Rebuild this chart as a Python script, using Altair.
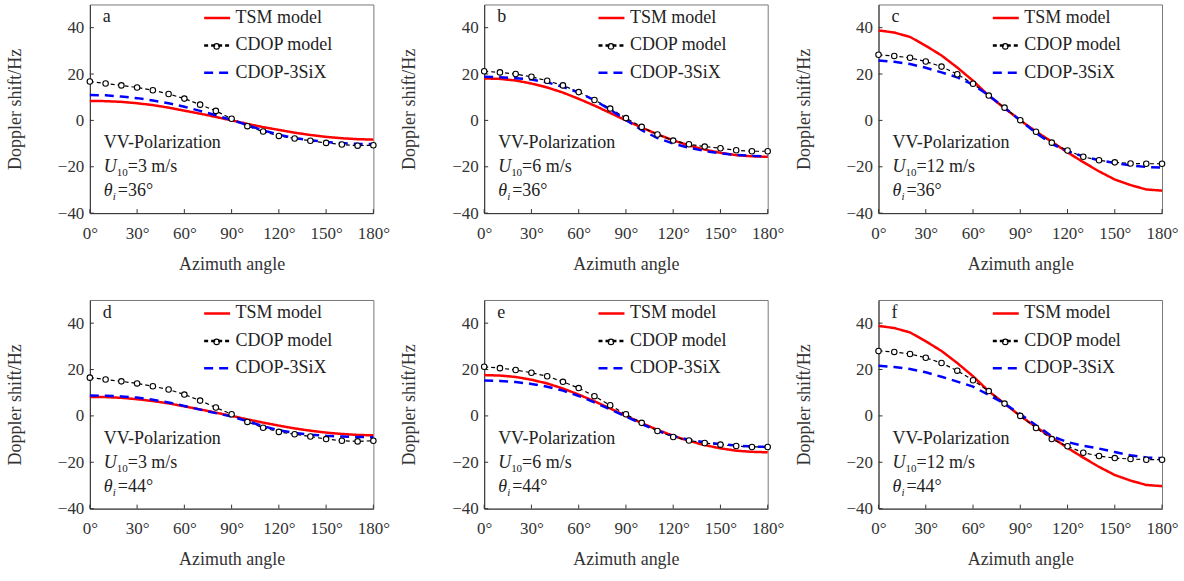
import altair as alt
import pandas as pd

FONT = "Times New Roman, Liberation Serif, DejaVu Serif, serif"
W, H = 284, 209

angles = [0, 10, 20, 30, 40, 50, 60, 70, 80, 90, 100, 110, 120, 130, 140, 150, 160, 170, 180]
x_ticks = [0, 30, 60, 90, 120, 150, 180]
y_ticks = [-40, -20, 0, 20, 40]

SERIES = ["TSM model", "CDOP model", "CDOP-3SiX"]
COLORS = ["#ff0000", "#000000", "#0000ff"]

letters = ["a", "b", "c", "d", "e", "f"]
winds = ["=3 m/s", "=6 m/s", "=12 m/s", "=3 m/s", "=6 m/s", "=12 m/s"]
incid = ["=36°", "=36°", "=36°", "=44°", "=44°", "=44°"]

tsm_a = [8.4, 8.3, 8.0, 7.4, 6.6, 5.5, 4.2, 2.9, 1.5, 0.0, -1.5, -2.9, -4.1, -5.3, -6.3, -7.1, -7.7, -8.1, -8.3]
cdop_a = [16.8, 15.9, 15.1, 14.2, 13.0, 11.4, 9.4, 6.8, 4.1, 0.7, -2.5, -4.8, -6.7, -7.8, -8.8, -9.7, -10.4, -10.9, -10.7]
six_a = [11.0, 10.8, 10.3, 9.6, 8.6, 7.4, 5.9, 4.1, 2.2, 0.2, -2.0, -4.3, -6.2, -7.6, -8.6, -9.3, -9.8, -10.1, -10.2]

tsm_b = [18.1, 17.9, 17.2, 15.9, 14.2, 12.0, 9.3, 6.4, 3.2, 0.0, -3.1, -6.0, -8.6, -10.8, -12.6, -14.0, -15.0, -15.5, -15.7]
cdop_b = [21.2, 20.7, 20.0, 18.8, 17.1, 15.1, 12.2, 8.8, 5.1, 1.0, -2.8, -6.1, -8.7, -10.3, -11.3, -12.0, -12.9, -13.3, -13.3]
six_b = [18.8, 18.6, 18.2, 17.6, 16.4, 14.5, 12.0, 8.7, 4.6, 0.2, -4.2, -7.6, -10.0, -11.8, -13.2, -14.2, -14.9, -15.3, -15.5]

tsm_c = [38.8, 37.9, 36.0, 32.2, 28.0, 22.8, 17.1, 10.6, 5.3, 0.0, -4.8, -9.2, -13.8, -18.0, -22.0, -25.5, -27.9, -29.8, -30.3]
cdop_c = [28.3, 27.8, 27.0, 25.4, 23.2, 19.9, 15.8, 10.7, 5.5, 0.1, -4.9, -9.6, -13.0, -15.7, -17.2, -18.1, -18.6, -18.7, -18.7]
six_c = [25.8, 25.3, 24.3, 22.7, 20.7, 18.6, 15.4, 10.8, 5.5, 0.0, -5.4, -10.1, -13.3, -15.5, -17.2, -18.4, -19.4, -20.1, -20.4]

tsm_d = [8.2, 8.1, 7.8, 7.2, 6.4, 5.4, 4.1, 2.8, 1.4, 0.0, -1.5, -2.9, -4.2, -5.4, -6.4, -7.2, -7.8, -8.2, -8.4]
cdop_d = [16.5, 15.7, 14.9, 14.0, 12.8, 11.4, 9.2, 6.6, 3.6, 0.7, -2.6, -5.1, -6.9, -7.9, -8.9, -10.0, -10.7, -11.0, -10.7]
six_d = [8.8, 8.7, 8.4, 7.9, 7.0, 5.8, 4.3, 2.7, 1.2, -0.3, -2.3, -4.4, -6.2, -7.3, -8.1, -8.6, -8.9, -9.1, -9.2]

tsm_e = [17.6, 17.4, 16.8, 15.6, 14.0, 11.8, 9.2, 6.3, 3.2, 0.0, -3.1, -6.0, -8.6, -10.8, -12.6, -14.0, -15.0, -15.5, -15.7]
cdop_e = [21.2, 20.6, 19.8, 18.6, 17.1, 14.7, 12.0, 8.5, 4.6, 0.7, -3.0, -6.5, -9.1, -10.6, -11.7, -12.4, -13.0, -13.4, -13.4]
six_e = [15.3, 15.1, 14.6, 13.8, 12.6, 10.9, 8.6, 5.8, 2.8, -0.3, -3.5, -6.4, -8.7, -10.3, -11.4, -12.2, -12.8, -13.2, -13.4]

tsm_f = [38.8, 37.9, 36.0, 32.2, 28.0, 22.8, 17.1, 10.6, 5.3, 0.0, -4.8, -9.2, -13.8, -18.0, -22.0, -25.5, -27.9, -29.8, -30.3]
cdop_f = [28.0, 27.6, 26.7, 25.1, 22.8, 19.5, 15.4, 10.7, 5.3, 0.0, -5.2, -10.0, -13.1, -15.9, -17.3, -18.2, -18.6, -18.9, -18.9]
six_f = [21.6, 21.1, 20.2, 18.8, 16.9, 14.8, 12.6, 9.0, 5.3, 0.7, -4.0, -8.8, -11.3, -12.9, -14.1, -15.6, -17.0, -17.9, -18.3]

panels_data = [
    (tsm_a, cdop_a, six_a), (tsm_b, cdop_b, six_b), (tsm_c, cdop_c, six_c),
    (tsm_d, cdop_d, six_d), (tsm_e, cdop_e, six_e), (tsm_f, cdop_f, six_f),
]

xs = alt.Scale(domain=[0, 180], nice=False)
ys = alt.Scale(domain=[-40, 50], nice=False)
x_axis = alt.Axis(values=x_ticks, labelExpr="datum.value + '°'", title="Azimuth angle",
                  ticks=False, grid=False, labelPadding=12, titlePadding=14,
                  labelFlush=False, labelOverlap=False)
y_axis = alt.Axis(values=y_ticks, title="Doppler shift/Hz", ticks=False, grid=False,
                  labelPadding=6, titlePadding=33)


def make_legend():
    return alt.Legend(
        title=None, orient="none", legendX=113, legendY=-1, padding=0,
        labelFont=FONT, labelFontSize=18, labelColor="#222", labelOffset=4,
        symbolType="stroke", symbolSize=676, symbolStrokeWidth=2.5, rowPadding=3.5,
    )


def text_piece(txt, px, py, size=18, italic=False):
    return alt.Chart(pd.DataFrame({"k": [0]})).mark_text(
        text=txt, align="left", baseline="alphabetic", font=FONT, fontSize=size,
        fontStyle="italic" if italic else "normal", color="#222"
    ).encode(x=alt.value(px), y=alt.value(py))


def panel(i):
    tsm, cdop, six = panels_data[i]
    rows = []
    for name, vals in zip(SERIES, [tsm, cdop, six]):
        for a, v in zip(angles, vals):
            rows.append({"angle": a, "shift": v, "series": name})
    df = pd.DataFrame(rows)

    lines = alt.Chart(df).mark_line().encode(
        x=alt.X("angle:Q", scale=xs, axis=x_axis),
        y=alt.Y("shift:Q", scale=ys, axis=y_axis),
        color=alt.Color("series:N", scale=alt.Scale(domain=SERIES, range=COLORS), legend=make_legend()),
        strokeDash=alt.StrokeDash("series:N", scale=alt.Scale(domain=SERIES, range=[[1, 0], [4, 3], [9, 6]]),
                                  legend=make_legend()),
        strokeWidth=alt.condition(alt.datum.series == "CDOP model", alt.value(1.2), alt.value(2.5)),
    )
    pts = alt.Chart(df).transform_filter(alt.datum.series == "CDOP model").mark_point(
        shape="circle", filled=True, fill="white", stroke="black", strokeWidth=1.1, size=30, opacity=1
    ).encode(
        x=alt.X("angle:Q", scale=xs, axis=x_axis),
        y=alt.Y("shift:Q", scale=ys, axis=y_axis),
    )
    leg_dot = alt.Chart(pd.DataFrame({"k": [0]})).mark_point(
        shape="circle", filled=True, fill="white", stroke="black", strokeWidth=1.1, size=30, opacity=1
    ).encode(x=alt.value(127), y=alt.value(42))
    xt = alt.Chart(pd.DataFrame({"angle": x_ticks})).mark_rule(color="#333", strokeWidth=1).encode(
        x=alt.X("angle:Q", scale=xs, axis=x_axis), y=alt.value(H), y2=alt.value(H - 4)
    )
    yt = alt.Chart(pd.DataFrame({"shift": y_ticks})).mark_rule(color="#333", strokeWidth=1).encode(
        y=alt.Y("shift:Q", scale=ys, axis=y_axis), x=alt.value(0), x2=alt.value(4)
    )
    texts = [
        text_piece(letters[i], 13, 18),
        text_piece("VV-Polarization", 14, 144),
        text_piece("U", 14, 168, italic=True),
        text_piece("10", 27, 172, size=11),
        text_piece(winds[i], 38, 168),
        text_piece("θ", 14, 192, italic=True),
        text_piece("i", 23, 196, size=11, italic=True),
        text_piece(incid[i], 28, 192),
    ]
    return alt.layer(xt, yt, lines, pts, leg_dot, *texts).properties(width=W, height=H)


def row(a, b, c):
    return alt.hconcat(panel(a), panel(b), panel(c), spacing=9).resolve_scale(
        color="independent", strokeDash="independent"
    ).resolve_legend(color="independent", strokeDash="independent")


chart = alt.vconcat(row(0, 1, 2), row(3, 4, 5), spacing=24).resolve_scale(
    color="independent", strokeDash="independent"
).resolve_legend(
    color="independent", strokeDash="independent"
).properties(
    padding={"left": 5, "top": 2, "right": 5, "bottom": 5},
    background="white",
).configure_view(
    stroke="#777", strokeWidth=1
).configure_axis(
    domainColor="#333", domainWidth=1, labelFont=FONT, labelFontSize=17, labelColor="#333",
    titleFont=FONT, titleFontSize=18, titleFontWeight="normal", titleColor="#333"
)

chart.save("out.html", embed_options={"renderer": "svg", "actions": False})
